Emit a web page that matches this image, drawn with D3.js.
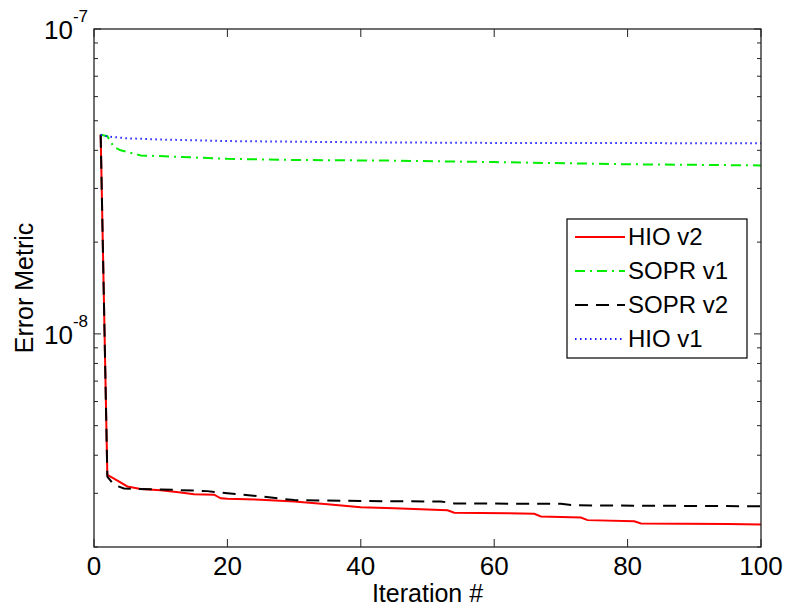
<!DOCTYPE html>
<html>
<head>
<meta charset="utf-8">
<script src="https://cdn.jsdelivr.net/npm/d3@7"></script>
<style>
  body { margin: 0; background: #fff; }
  text { font-family: "Liberation Sans", Arial, sans-serif; fill: #000; }
</style>
</head>
<body>
<div id="chart"></div>
<script>
// series: [iteration, error]
var hioV2 = [[1,4.5e-8],[2,3.45e-9],[3,3.35e-9],[5,3.16e-9],[7,3.1e-9],[10,3.07e-9],[13,3.02e-9],[15,2.98e-9],
  [18,2.97e-9],[19,2.89e-9],[20,2.88e-9],[25,2.86e-9],[30,2.82e-9],[35,2.76e-9],[40,2.70e-9],[45,2.68e-9],
  [53,2.64e-9],[54,2.59e-9],[62,2.58e-9],[66,2.57e-9],[67,2.52e-9],[73,2.50e-9],[74,2.45e-9],[81,2.43e-9],
  [82,2.39e-9],[95,2.38e-9],[100,2.37e-9]];
var soprV1 = [[1,4.5e-8],[2,4.45e-8],[3,4.1e-8],[4,4.0e-8],[7,3.85e-8],[15,3.79e-8],[20,3.75e-8],[30,3.72e-8],
  [45,3.70e-8],[60,3.66e-8],[80,3.6e-8],[100,3.57e-8]];
var soprV2 = [[1,4.5e-8],[2,3.4e-9],[3,3.2e-9],[4.5,3.11e-9],[10,3.09e-9],[17,3.05e-9],[20,3.0e-9],[25,2.93e-9],
  [30,2.85e-9],[40,2.83e-9],[52,2.82e-9],[54,2.78e-9],[70,2.77e-9],[72,2.74e-9],[100,2.72e-9]];
var hioV1 = [[1,4.5e-8],[2,4.44e-8],[5,4.38e-8],[10,4.34e-8],[20,4.29e-8],[40,4.25e-8],[60,4.23e-8],[100,4.22e-8]];

var seriesNames = ["HIO v2", "SOPR v1", "SOPR v2", "HIO v1"];
var xTicks = [0, 20, 40, 60, 80, 100];
var yMajor = [1e-8, 1e-7];
var yExp = ["-8", "-7"];

var styles = [
  {color: "#ff0000", dash: null},
  {color: "#00ee00", dash: "10,5,2,5"},
  {color: "#000000", dash: "13,8"},
  {color: "#1a1aff", dash: "1.5,3.5"}
];
var allSeries = [hioV2, soprV1, soprV2, hioV1];

var svgWidth = 785, svgHeight = 608;
var margin = {top: 29, right: 24, bottom: 61, left: 94};
var width = svgWidth - margin.left - margin.right;
var height = svgHeight - margin.top - margin.bottom;

var svg = d3.select("#chart").append("svg")
  .attr("width", svgWidth)
  .attr("height", svgHeight);

var g = svg.append("g").attr("transform", `translate(${margin.left},${margin.top})`);

var x = d3.scaleLinear().domain([0, 100]).range([0, width]);
var y = d3.scaleLog().domain([2e-9, 1e-7]).range([height, 0]);

// minor log ticks
var yMinor = [];
[1e-9, 1e-8].forEach(function(b) {
  for (var k = 2; k <= 9; k++) {
    var v = k * b;
    if (v >= 2e-9 && v < 1e-7) yMinor.push(v);
  }
});

var line = d3.line().x(d => x(d[0])).y(d => y(d[1]));

allSeries.forEach(function(s, i) {
  g.append("path")
    .datum(s)
    .attr("fill", "none")
    .attr("stroke", styles[i].color)
    .attr("stroke-width", 2)
    .attr("stroke-dasharray", styles[i].dash)
    .attr("d", line);
});

// ticks (inward, on both sides)
var tickCol = "#222";
xTicks.forEach(function(t) {
  g.append("line").attr("x1", x(t)).attr("x2", x(t)).attr("y1", height).attr("y2", height - 8).attr("stroke", tickCol);
  g.append("line").attr("x1", x(t)).attr("x2", x(t)).attr("y1", 0).attr("y2", 8).attr("stroke", tickCol);
  g.append("text")
    .attr("x", x(t))
    .attr("y", height + 28)
    .attr("text-anchor", "middle")
    .style("font-size", "26px")
    .text(t);
});

yMinor.forEach(function(v) {
  g.append("line").attr("x1", 0).attr("x2", 4).attr("y1", y(v)).attr("y2", y(v)).attr("stroke", tickCol);
  g.append("line").attr("x1", width).attr("x2", width - 4).attr("y1", y(v)).attr("y2", y(v)).attr("stroke", tickCol);
});
yMajor.forEach(function(v, i) {
  g.append("line").attr("x1", 0).attr("x2", 7).attr("y1", y(v)).attr("y2", y(v)).attr("stroke", tickCol);
  g.append("line").attr("x1", width).attr("x2", width - 7).attr("y1", y(v)).attr("y2", y(v)).attr("stroke", tickCol);
  var lbl = g.append("text")
    .attr("x", -6)
    .attr("y", y(v) + 10)
    .attr("text-anchor", "end")
    .style("font-size", "26px");
  lbl.append("tspan").text("10");
  lbl.append("tspan").attr("dy", -17).style("font-size", "17px").text(yExp[i]);
});

// box
g.append("rect")
  .attr("width", width)
  .attr("height", height)
  .attr("fill", "none")
  .attr("stroke", tickCol)
  .attr("stroke-width", 1.3);

// axis titles
g.append("text")
  .attr("x", width / 2)
  .attr("y", height + 55)
  .attr("text-anchor", "middle")
  .style("font-size", "25px")
  .text("Iteration #");

g.append("text")
  .attr("transform", `translate(${-margin.left + 33},${height / 2}) rotate(-90)`)
  .attr("text-anchor", "middle")
  .style("font-size", "25px")
  .text("Error Metric");

// legend
var legend = svg.append("g").attr("transform", "translate(567,219)");
legend.append("rect")
  .attr("width", 180)
  .attr("height", 139)
  .attr("fill", "#fff")
  .attr("stroke", "#000")
  .attr("stroke-width", 1.2);

seriesNames.forEach(function(name, i) {
  var ly = 18 + i * 34;
  legend.append("line")
    .attr("x1", 8).attr("x2", 58)
    .attr("y1", ly).attr("y2", ly)
    .attr("stroke", styles[i].color)
    .attr("stroke-width", 2)
    .attr("stroke-dasharray", styles[i].dash);
  legend.append("text")
    .attr("x", 61)
    .attr("y", ly + 8)
    .style("font-size", "24px")
    .text(name);
});
</script>
</body>
</html>
